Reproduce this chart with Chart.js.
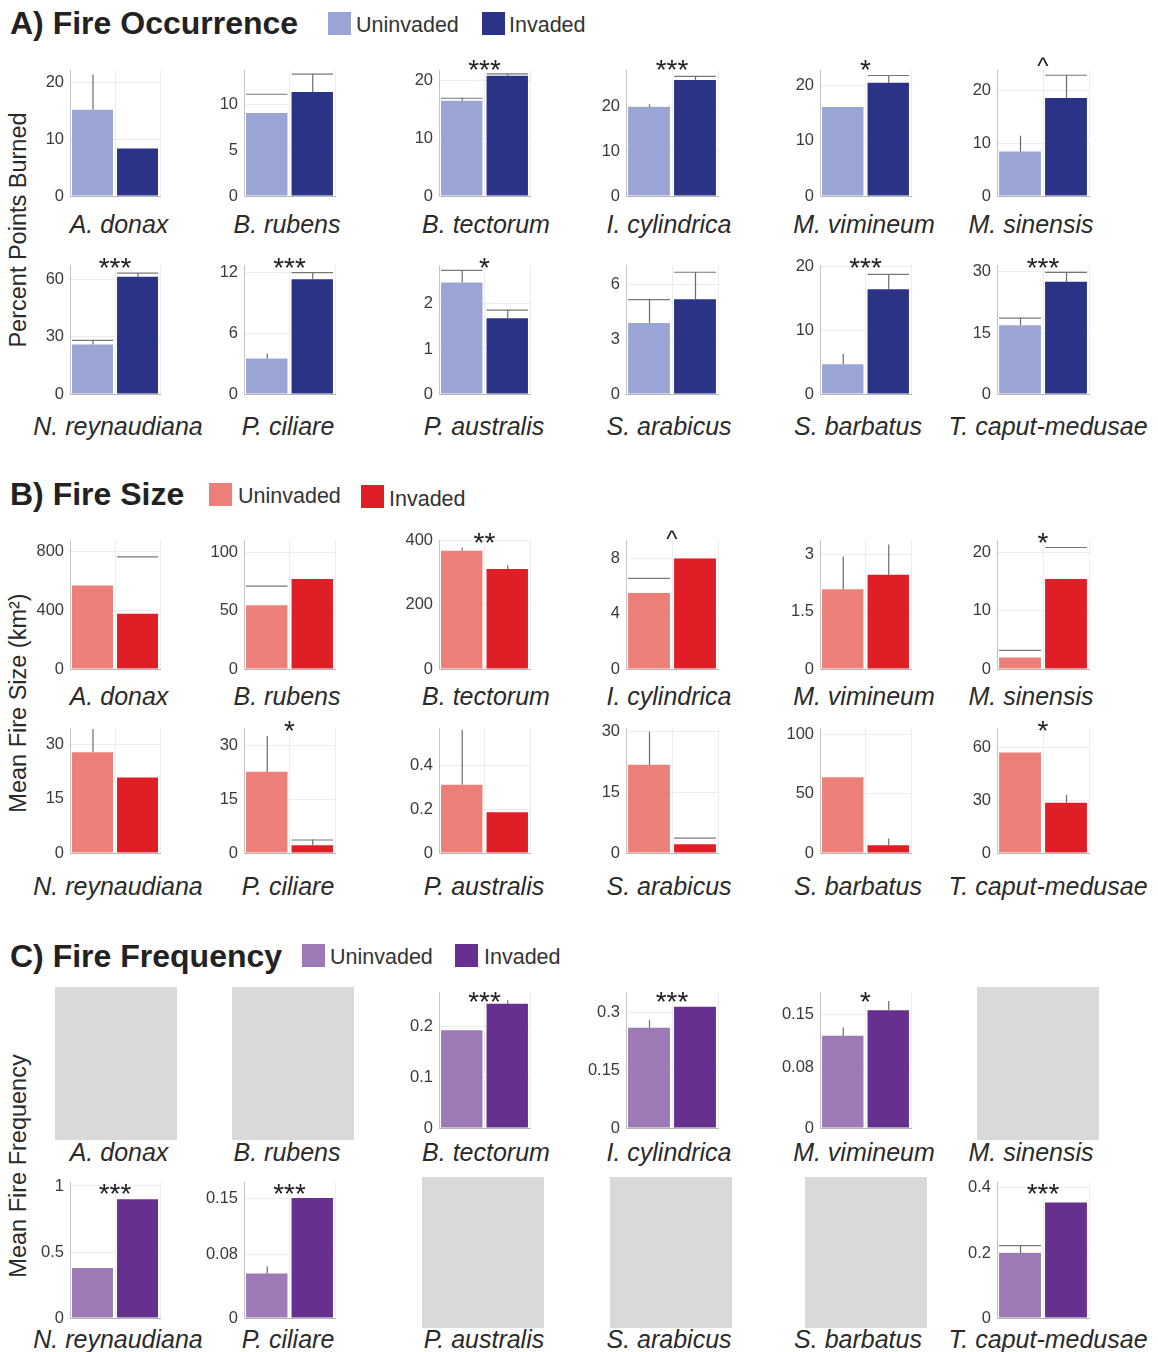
<!DOCTYPE html>
<html><head><meta charset="utf-8">
<script src="https://cdn.jsdelivr.net/npm/chart.js@4"></script>
<style>
body{margin:0;background:#fff;font-family:'Liberation Sans',Arial,sans-serif;color:#222}
#fig{position:relative;width:1158px;height:1352px;overflow:hidden;background:#fff}
.abs{position:absolute;white-space:nowrap}
.title{font-weight:bold;font-size:32px;line-height:32px;color:#222}
.leg{font-size:21.5px;line-height:22px;color:#333}
.sw{position:absolute;width:23px;height:23px}
.sp{font-style:italic;font-size:25px;line-height:25px;color:#2a2a2a}
.ytitle{font-size:23.5px;line-height:24px;color:#2a2a2a;transform:translate(-50%,-50%) rotate(-90deg)}
.na{position:absolute;background:#d9d9d9}
canvas{position:absolute}
</style></head>
<body><div id="fig"></div>
<script>
// ---- species ----
const species = ['A. donax','B. rubens','B. tectorum','I. cylindrica','M. vimineum','M. sinensis',
  'N. reynaudiana','P. ciliare','P. australis','S. arabicus','S. barbatus','T. caput-medusae'];

// ---- A) Fire occurrence: percent points burned ----
const occUninvaded = [15.2, 9.1, 16.5, 19.8, 16.1, 8.4, 25.9, 3.5, 2.47, 3.9, 4.7, 16.9];
const occInvaded   = [8.4, 11.4, 20.8, 25.8, 20.5, 18.5, 61.4, 11.3, 1.68, 5.2, 16.5, 27.6];
const occErrUninvaded = [21.4, 11.2, 17, 20.4, null, 11.4, 28.4, 4.0, 2.75, 5.2, 6.3, 18.8];
const occErrInvaded   = [null, 13.4, 21.2, 26.7, 21.9, 22.9, 63.5, 12, 1.87, 6.7, 18.9, 30];
// 0 = stem only, 1 = stem and cap, 2 = cap only
const occCapUninvaded = [0, 2, 1, 0, 0, 0, 1, 0, 1, 1, 0, 1];
const occCapInvaded   = [0, 1, 1, 1, 1, 1, 1, 1, 1, 1, 1, 1];
const occSig = ['', '', '***', '***', '*', '^', '***', '***', '*', '', '***', '***'];
const occMax = [22.2, 13.8, 21.8, 28, 22.8, 23.8, 67.5, 12.7, 2.86, 7.07, 20.3, 31.7];
const occTicks = [[0,10,20],[0,5,10],[0,10,20],[0,10,20],[0,10,20],[0,10,20],
  [0,30,60],[0,6,12],[0,1,2],[0,3,6],[0,10,20],[0,15,30]];

// ---- B) Fire size: mean fire size (km²) ----
const sizeUninvaded = [570, 55, 367, 5.5, 2.09, 2, 27.9, 22.7, 0.31, 21.8, 64, 57];
const sizeInvaded   = [378, 77.5, 310, 8.0, 2.47, 15.5, 20.9, 2.2, 0.185, 2.2, 6.6, 28.6];
const sizeErrUninvaded = [null, 71.7, 376, 6.6, 2.95, 3.3, 34.3, 32.7, 0.56, 30, null, null];
const sizeErrInvaded   = [768, null, 322, null, 3.26, 21, null, 3.8, null, 3.8, 12.3, 33];
const sizeCapUninvaded = [0, 2, 0, 2, 0, 2, 0, 0, 0, 0, 0, 0];
const sizeCapInvaded   = [2, 0, 0, 0, 0, 2, 0, 1, 0, 2, 0, 0];
const sizeSig = ['', '', '**', '^', '', '*', '', '*', '', '', '', '*'];
const sizeMax = [880, 111, 400, 9.33, 3.38, 22.2, 34.6, 34.9, 0.568, 30.9, 105.7, 70.9];
const sizeTicks = [[0,400,800],[0,50,100],[0,200,400],[0,4,8],[0,1.5,3],[0,10,20],
  [0,15,30],[0,15,30],[0,0.2,0.4],[0,15,30],[0,50,100],[0,30,60]];

// ---- C) Fire frequency: mean fire frequency (null = no data) ----
const freqUninvaded = [null, null, 0.192, 0.26, 0.122, null, 0.38, 0.056, null, null, null, 0.2];
const freqInvaded   = [null, null, 0.244, 0.315, 0.156, null, 0.9, 0.151, null, null, null, 0.355];
const freqErrUninvaded = [null, null, null, 0.28, 0.133, null, null, 0.065, null, null, null, 0.224];
const freqErrInvaded   = [null, null, 0.251, null, 0.168, null, null, null, null, null, null, null];
const freqCapUninvaded = [0, 0, 0, 0, 0, 0, 0, 0, 0, 0, 0, 1];
const freqCapInvaded   = [0, 0, 0, 0, 0, 0, 0, 0, 0, 0, 0, 0];
const freqSig = ['', '', '***', '***', '*', '', '***', '***', '', '', '', '***'];
const freqMax = [1, 1, 0.267, 0.353, 0.18, 1, 1.03, 0.171, 1, 1, 1, 0.418];
const freqTicks = [[],[],[0,0.1,0.2],[0,0.15,0.3],[0,0.08,0.15],[],
  [0,0.5,1],[0,0.08,0.15],[],[],[],[0,0.2,0.4]];

// ---- layout ----
const FONT = "'Liberation Sans', Arial, sans-serif";
const COLS = [[70,160],[244,335],[439,530],[626,718],[820,911],[997,1089]];
// species-label centres for the upper and lower row of each block
const LABEL_X = [[119, 287, 486, 669, 864, 1031], [118, 288, 484, 669, 858, 1048]];
const ROWS = [
  {top:70,   zero:200,  sig:63,   label:225},
  {top:265,  zero:398,  sig:261,  label:427},
  {top:540,  zero:673,  sig:536,  label:697},
  {top:728,  zero:857,  sig:724,  label:887},
  {top:992,  zero:1132, sig:995,  label:1153},
  {top:1182, zero:1322, sig:1187, label:1340}
];
const NA_LEFT = [55, 232, 422, 610, 805, 977];
const NA_ROWS = [[987,153],[1177,151]];

const sections = [
  {title:'A) Fire Occurrence', tx:10, ty:7, yTitle:'Percent Points Burned', yc:230,
   colors:['#9ba5d5','#2b3387'], legend:[[328,12,356,14],[482,12,509,14]], rows:[0,1],
   u:occUninvaded, v:occInvaded, eu:occErrUninvaded, ev:occErrInvaded, cu:occCapUninvaded, cv:occCapInvaded,
   sig:occSig, max:occMax, ticks:occTicks},
  {title:'B) Fire Size', tx:10, ty:478, yTitle:'Mean Fire Size (km²)', yc:703,
   colors:['#ec8079','#e01e26'], legend:[[209,483,238,485],[361,485,389,488]], rows:[2,3],
   u:sizeUninvaded, v:sizeInvaded, eu:sizeErrUninvaded, ev:sizeErrInvaded, cu:sizeCapUninvaded, cv:sizeCapInvaded,
   sig:sizeSig, max:sizeMax, ticks:sizeTicks},
  {title:'C) Fire Frequency', tx:10, ty:940, yTitle:'Mean Fire Frequency', yc:1166,
   colors:['#9d79b5','#66308f'], legend:[[302,944,330,946],[455,944,484,946]], rows:[4,5],
   u:freqUninvaded, v:freqInvaded, eu:freqErrUninvaded, ev:freqErrInvaded, cu:freqCapUninvaded, cv:freqCapInvaded,
   sig:freqSig, max:freqMax, ticks:freqTicks}
];

const fig = document.getElementById('fig');
function el(cls, txt, css) {
  const d = document.createElement('div');
  d.className = 'abs ' + cls;
  if (txt != null) d.textContent = txt;
  Object.assign(d.style, css);
  fig.appendChild(d);
  return d;
}

const measure = document.createElement('canvas').getContext('2d');
measure.font = "italic 25px " + FONT;

// error bars and significance marks
const errPlugin = {
  id: 'errs',
  afterDatasetsDraw(chart, args, o) {
    const ctx = chart.ctx, meta = chart.getDatasetMeta(0), y = chart.scales.y, ca = chart.chartArea;
    ctx.save();
    ctx.lineWidth = 1.2;
    o.tops.forEach((t, k) => {
      if (t == null) return;
      const bar = meta.data[k];
      const yt = y.getPixelForValue(t);
      const mode = o.caps[k];
      if (mode !== 2) {
        ctx.strokeStyle = '#6a6a6a';
        ctx.beginPath(); ctx.moveTo(bar.x + 0.5, bar.y); ctx.lineTo(bar.x + 0.5, yt); ctx.stroke();
      }
      if (mode >= 1) {
        ctx.strokeStyle = '#777';
        ctx.beginPath(); ctx.moveTo(bar.x - bar.width / 2, yt + 0.5); ctx.lineTo(bar.x + bar.width / 2, yt + 0.5); ctx.stroke();
      }
    });
    if (o.sig) {
      ctx.fillStyle = '#222';
      ctx.font = (o.sig === '^' ? '24px ' : '28px ') + FONT;
      ctx.textAlign = 'center';
      ctx.textBaseline = 'alphabetic';
      const base = o.sigY + (o.sig === '^' ? 11 : 16);
      ctx.fillText(o.sig, (ca.left + ca.right) / 2, base);
    }
    ctx.restore();
  }
};

sections.forEach(sec => {
  el('title', sec.title, {left: sec.tx + 'px', top: sec.ty + 'px'});
  ['Uninvaded','Invaded'].forEach((name, k) => {
    const [sx, sy, lx, ly] = sec.legend[k];
    el('sw', null, {left: sx + 'px', top: sy + 'px', background: sec.colors[k]});
    el('leg', name, {left: lx + 'px', top: ly + 'px'});
  });
  el('ytitle', sec.yTitle, {left: '18px', top: sec.yc + 'px'});

  species.forEach((sp, i) => {
    const r = Math.floor(i / 6);
    const row = ROWS[sec.rows[r]];
    const col = i % 6;
    const [pl, pr] = COLS[col];
    // species label, kept inside the right edge
    const w = measure.measureText(sp).width;
    const cx = Math.min(LABEL_X[r][col], 1148 - w / 2);
    el('sp', sp, {left: (cx - w / 2) + 'px', top: (row.label - 13) + 'px'});

    if (sec.u[i] == null) {
      const [nt, nh] = NA_ROWS[r];
      el('na', null, {left: NA_LEFT[col] + 'px', top: nt + 'px', width: '122px', height: nh + 'px'});
      return;
    }
    const padTop = 30, padBot = 12, axisW = 44, padR = 12;
    const cw = pr - pl + axisW + padR, chh = row.zero - row.top + padTop + padBot;
    const cv = document.createElement('canvas');
    cv.width = cw; cv.height = chh;
    cv.style.left = (pl - axisW) + 'px';
    cv.style.top = (row.top - padTop) + 'px';
    cv.style.width = cw + 'px'; cv.style.height = chh + 'px';
    fig.appendChild(cv);
    const ticks = sec.ticks[i];
    new Chart(cv, {
      type: 'bar',
      data: {
        labels: ['Uninvaded', 'Invaded'],
        datasets: [{
          data: [sec.u[i], sec.v[i]],
          backgroundColor: sec.colors,
          borderWidth: 0,
          barPercentage: 0.91,
          categoryPercentage: 1
        }]
      },
      options: {
        responsive: false, animation: false, devicePixelRatio: 1,
        layout: {padding: {top: padTop, bottom: padBot, left: 0, right: padR}},
        plugins: {
          legend: {display: false}, tooltip: {enabled: false},
          errs: {tops: [sec.eu[i], sec.ev[i]], caps: [sec.cu[i], sec.cv[i]], sig: sec.sig[i], sigY: row.sig - (row.top - padTop)}
        },
        scales: {
          x: {
            ticks: {display: false},
            grid: {color: '#ededed', drawTicks: false},
            border: {color: '#b5b5b5'},
            afterFit: a => { a.height = 0; }
          },
          y: {
            min: 0, max: sec.max[i],
            afterBuildTicks: a => { a.ticks = ticks.map(v => ({value: v})); },
            afterFit: a => { a.width = axisW; },
            ticks: {font: {family: FONT, size: 16.5}, color: '#3a3a3a', padding: 6,
                    callback: v => String(v)},
            grid: {color: '#ededed', drawTicks: false},
            border: {color: '#c4c4c4'}
          }
        }
      },
      plugins: [errPlugin]
    });
  });
});
</script>
</body></html>
